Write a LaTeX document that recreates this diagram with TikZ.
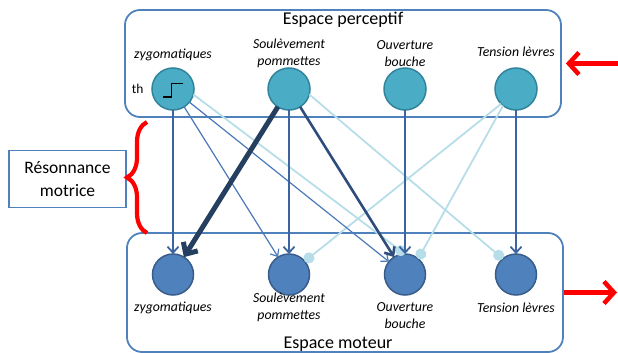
\documentclass[tikz,border=0pt]{standalone}
\usepackage{fontspec}
\setmainfont{Carlito}
\usetikzlibrary{positioning,arrows.meta,decorations.pathreplacing}
\definecolor{boxblue}{HTML}{4F81BD}
\definecolor{percfill}{HTML}{4BACC6}
\definecolor{percline}{HTML}{31849B}
\definecolor{motfill}{HTML}{4F81BD}
\definecolor{motline}{HTML}{385D8A}
\definecolor{arrmed}{HTML}{3B64A0}
\definecolor{arrthin}{HTML}{4A78BA}
\definecolor{arrdark}{HTML}{2E4D7C}
\definecolor{arrheavy}{HTML}{243F60}
\definecolor{inhib}{HTML}{B7DEE8}

\begin{document}
\begin{tikzpicture}[x=1pt, y=-1pt, node distance=74pt,
    space/.style = {draw=boxblue, line width=1.8pt, rounded corners=15pt, fill=white, minimum width=436pt, inner sep=0pt},
    percep/.style = {draw=percline, fill=percfill, circle, line width=1.5pt, minimum size=42pt, inner sep=0pt, outer sep=0pt},
    motor/.style = {draw=motline, fill=motfill, circle, line width=1.5pt, minimum size=41pt, inner sep=0pt, outer sep=0pt},
    lab/.style = {font=\fontsize{13.8}{17}\selectfont\itshape, align=center},
    title/.style = {font=\fontsize{18}{22}\selectfont},
    excit/.style = {color=arrmed, line width=1.8pt, -{Straight Barb[length=6pt,width=11pt]}},
    weak/.style = {color=arrthin, line width=1.2pt, -{Straight Barb[length=6pt,width=10pt]}},
    strong/.style = {color=arrdark, line width=2.6pt, -{Straight Barb[length=7pt,width=12pt]}},
    heavy/.style = {color=arrheavy, line width=5pt, -{Straight Barb[length=9pt,width=17pt]}},
    inhibit/.style = {color=inhib, line width=1.8pt, -{Circle[length=11pt]}},
    stepsym/.style = {draw=black, line width=1.5pt},
    reso/.style = {draw=boxblue, line width=1.3pt, minimum width=117pt, minimum height=57pt, align=center, font=\fontsize{17.5}{23}\selectfont},
    brace/.style = {decorate, decoration={brace, amplitude=20pt}, draw=red, line width=4.2pt},
    redarr/.style = {color=red, line width=4.5pt, -{Straight Barb[length=10pt,width=22pt]}}]
    \useasboundingbox (0,0) rectangle (618,353);

    % the two spaces
    \node[space, minimum height=107pt] (perc) at (343,63.5) {};
    \node[space, minimum height=119pt] (mot) at (345,292.5) {};
    \node[title] (ptitle) at (343,20) {Espace perceptif};
    \node[title] (mtitle) at (338,344) {Espace moteur};

    % perceptive units
    \node[percep] (p1) at (173,89) {};
    \node[percep] (p2) [right=of p1] {};
    \node[percep] (p3) [right=of p2] {};
    \node[percep] (p4) [right=69pt of p3] {};

    % motor units
    \node[motor] (m1) [below=144pt of p1] {};
    \node[motor] (m2) [below=144pt of p2] {};
    \node[motor] (m3) [below=144pt of p3] {};
    \node[motor] (m4) [below=144pt of p4] {};

    \node[lab] (lp1) at ([yshift=34pt]p1) {zygomatiques};
    \node[lab] (lp2) at ([yshift=35.5pt]p2) {Soulèvement\\pommettes};
    \node[lab] (lp3) at ([yshift=35.5pt]p3) {Ouverture\\bouche};
    \node[lab] (lp4) at ([yshift=37pt]p4) {Tension lèvres};
    \node[lab] (lm1) at ([yshift=-33pt]m1) {zygomatiques};
    \node[lab] (lm2) at ([yshift=-32.5pt]m2) {Soulèvement\\pommettes};
    \node[lab] (lm3) at ([yshift=-41.5pt]m3) {Ouverture\\bouche};
    \node[lab] (lm4) at ([yshift=-33pt]m4) {Tension lèvres};

    \node (th) [left=5pt of p1, font=\fontsize{13.5}{16}\selectfont] {th};
    \draw[stepsym] ([shift={(-10,8)}]p1.center) -- ++(8.7,0) -- ++(0,-13.4) -- ++(11,0);

    % connections
    \path[inhibit] (p1.-15) edge (m3.north)
                   (p2.-15) edge (m4.130)
                   (p4.225) edge (m2.40)
                   (p4.232) edge (m3.50);
    \path[weak] (p1) edge (m2) (p1) edge (m3);
    \path[excit] (p1) edge (m1) (p2) edge (m2) (p3) edge (m3) (p4) edge (m4);
    \path[strong] (p2) edge (m3);
    \path[heavy] (p2) edge (m1);

    % resonance
    \node[reso] (res) at (67.5,179) {Résonnance\\motrice};
    \draw[brace] (147,233) -- (147,122);

    \coordinate (inp) at (618,63.5);
    \coordinate (outp) at (617,292.5);
    \draw[redarr] (inp) -- ([xshift=4pt]perc.east);
    \draw[redarr] (mot.east) -- (outp);
\end{tikzpicture}
\end{document}
